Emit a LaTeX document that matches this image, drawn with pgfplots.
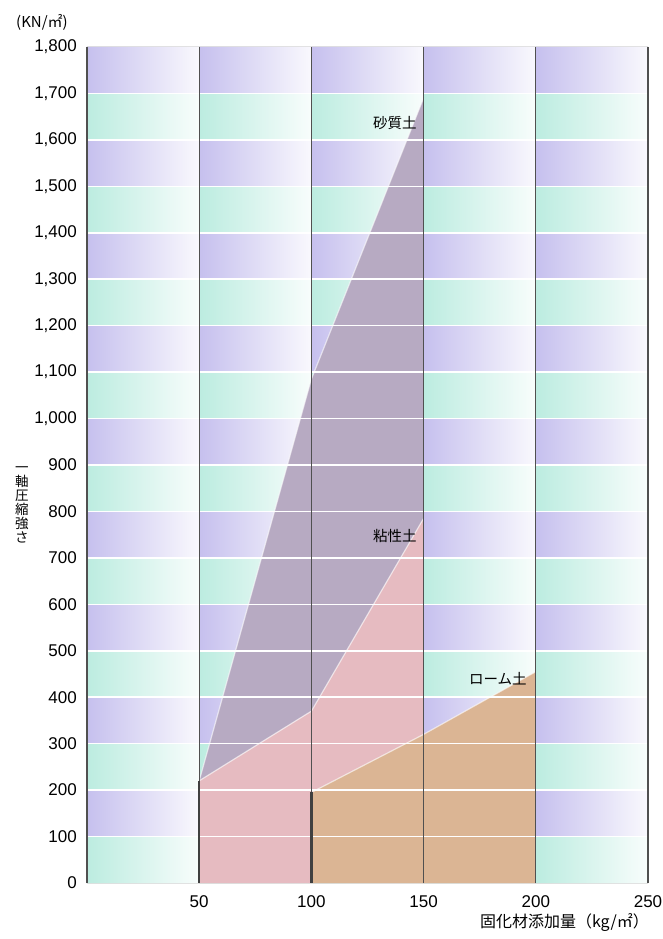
\documentclass[border=0pt]{standalone}
\usepackage{fontspec}
\setmainfont{Liberation Sans}
\newfontfamily\cjk{Noto Sans CJK JP}
\usepackage{pgfplots}
\pgfplotsset{compat=1.18}

\definecolor{bandP}{RGB}{198,192,238}
\definecolor{bandT}{RGB}{188,236,224}
\definecolor{sand}{RGB}{183,170,194}
\definecolor{clay}{RGB}{230,187,193}
\definecolor{loam}{RGB}{219,181,148}
\definecolor{gridc}{RGB}{80,80,80}

\newcommand\tfont{\fontsize{17bp}{19bp}\selectfont}
\newcommand\jfont{\cjk\fontsize{14.5bp}{16bp}\selectfont}

% one column of the striped background, left edge #1, right edge #2
\newcommand\bgcol[2]{%
  \fill[left color=bandP, right color=white!90!bandP]
    (axis cs:#1,100) rectangle (axis cs:#2,200)
    (axis cs:#1,300) rectangle (axis cs:#2,400)
    (axis cs:#1,500) rectangle (axis cs:#2,600)
    (axis cs:#1,700) rectangle (axis cs:#2,800)
    (axis cs:#1,900) rectangle (axis cs:#2,1000)
    (axis cs:#1,1100) rectangle (axis cs:#2,1200)
    (axis cs:#1,1300) rectangle (axis cs:#2,1400)
    (axis cs:#1,1500) rectangle (axis cs:#2,1600)
    (axis cs:#1,1700) rectangle (axis cs:#2,1800);
  \fill[left color=bandT, right color=white!90!bandT]
    (axis cs:#1,0) rectangle (axis cs:#2,100)
    (axis cs:#1,200) rectangle (axis cs:#2,300)
    (axis cs:#1,400) rectangle (axis cs:#2,500)
    (axis cs:#1,600) rectangle (axis cs:#2,700)
    (axis cs:#1,800) rectangle (axis cs:#2,900)
    (axis cs:#1,1000) rectangle (axis cs:#2,1100)
    (axis cs:#1,1200) rectangle (axis cs:#2,1300)
    (axis cs:#1,1400) rectangle (axis cs:#2,1500)
    (axis cs:#1,1600) rectangle (axis cs:#2,1700);
}

\begin{document}
\begin{tikzpicture}[x=1bp,y=1bp]
\path[use as bounding box] (-87,-56) rectangle (576,883);
\begin{axis}[
    at={(0,0)}, anchor=south west,
    scale only axis,
    width=561bp, height=836bp,
    xmin=0, xmax=250, ymin=0, ymax=1800,
    clip=false,
    xtick={0,50,...,250},
    xticklabels={,50,100,150,200,250},
    ytick={0,100,...,1800},
    axis line style={draw=none},
    major tick length=0pt,
    tick label style={font=\tfont},
    yticklabel style={inner sep=0pt, xshift=-10bp},
    xticklabel style={inner sep=0pt, yshift=-12bp},
    /pgf/number format/1000 sep={,},
    /pgf/number format/assume math mode=true,
]
\bgcol{0}{50}
\bgcol{50}{100}
\bgcol{100}{150}
\bgcol{150}{200}
\bgcol{200}{250}

% 砂質土
\addplot[draw=none, fill=sand] coordinates {
  (50,220) (100,1085) (150,1690) (150,785) (100,370)
} -- cycle;
% 粘性土
\addplot[draw=none, fill=clay] coordinates {
  (50,0) (50,220) (100,370) (150,785) (150,320) (100,195) (100,0)
} -- cycle;
% ローム土
\addplot[draw=none, fill=loam] coordinates {
  (100,0) (100,195) (150,320) (200,455) (200,0)
} -- cycle;

% light edges of the areas
\addplot[white, opacity=0.6, line width=1.2pt] coordinates {(50,220) (100,1085) (150,1690)};
\addplot[white, opacity=0.6, line width=1.2pt] coordinates {(50,220) (100,370) (150,785)};
\addplot[white, opacity=0.6, line width=1.2pt] coordinates {(100,195) (150,320) (200,455)};

\pgfplotsinvokeforeach{100,200,...,1700}{
  \draw[white, line width=1.6pt] (axis cs:0,#1) -- (axis cs:250,#1);
}
\pgfplotsinvokeforeach{0,50,...,250}{
  \draw[gridc, line width=1.3pt] (axis cs:#1,0) -- (axis cs:#1,1800);
}

\addplot[black!75, line width=2.6pt] coordinates {(50,0) (50,220)};
\addplot[black!75, line width=2.6pt] coordinates {(100,0) (100,195)};

\node[anchor=east, inner sep=0pt, font=\jfont] at (axis cs:147,1636) {砂質土};
\node[anchor=east, inner sep=0pt, font=\jfont] at (axis cs:147,748) {粘性土};
\node[anchor=east, inner sep=0pt, font=\jfont] at (axis cs:196,440) {ローム土};
\end{axis}

\node[font=\cjk\fontsize{15bp}{17bp}\selectfont, inner sep=0pt] at (-45,861) {(KN/㎡)};
\node[font=\cjk\fontsize{13.5bp}{14bp}\selectfont, align=center, inner sep=0pt] at (-65,378)
  {一\\軸\\圧\\縮\\強\\さ};
\node[font=\cjk\fontsize{16bp}{18bp}\selectfont, anchor=east, inner sep=0pt] at (562,-40)
  {固化材添加量（kg/㎡）};
\end{tikzpicture}
\end{document}
